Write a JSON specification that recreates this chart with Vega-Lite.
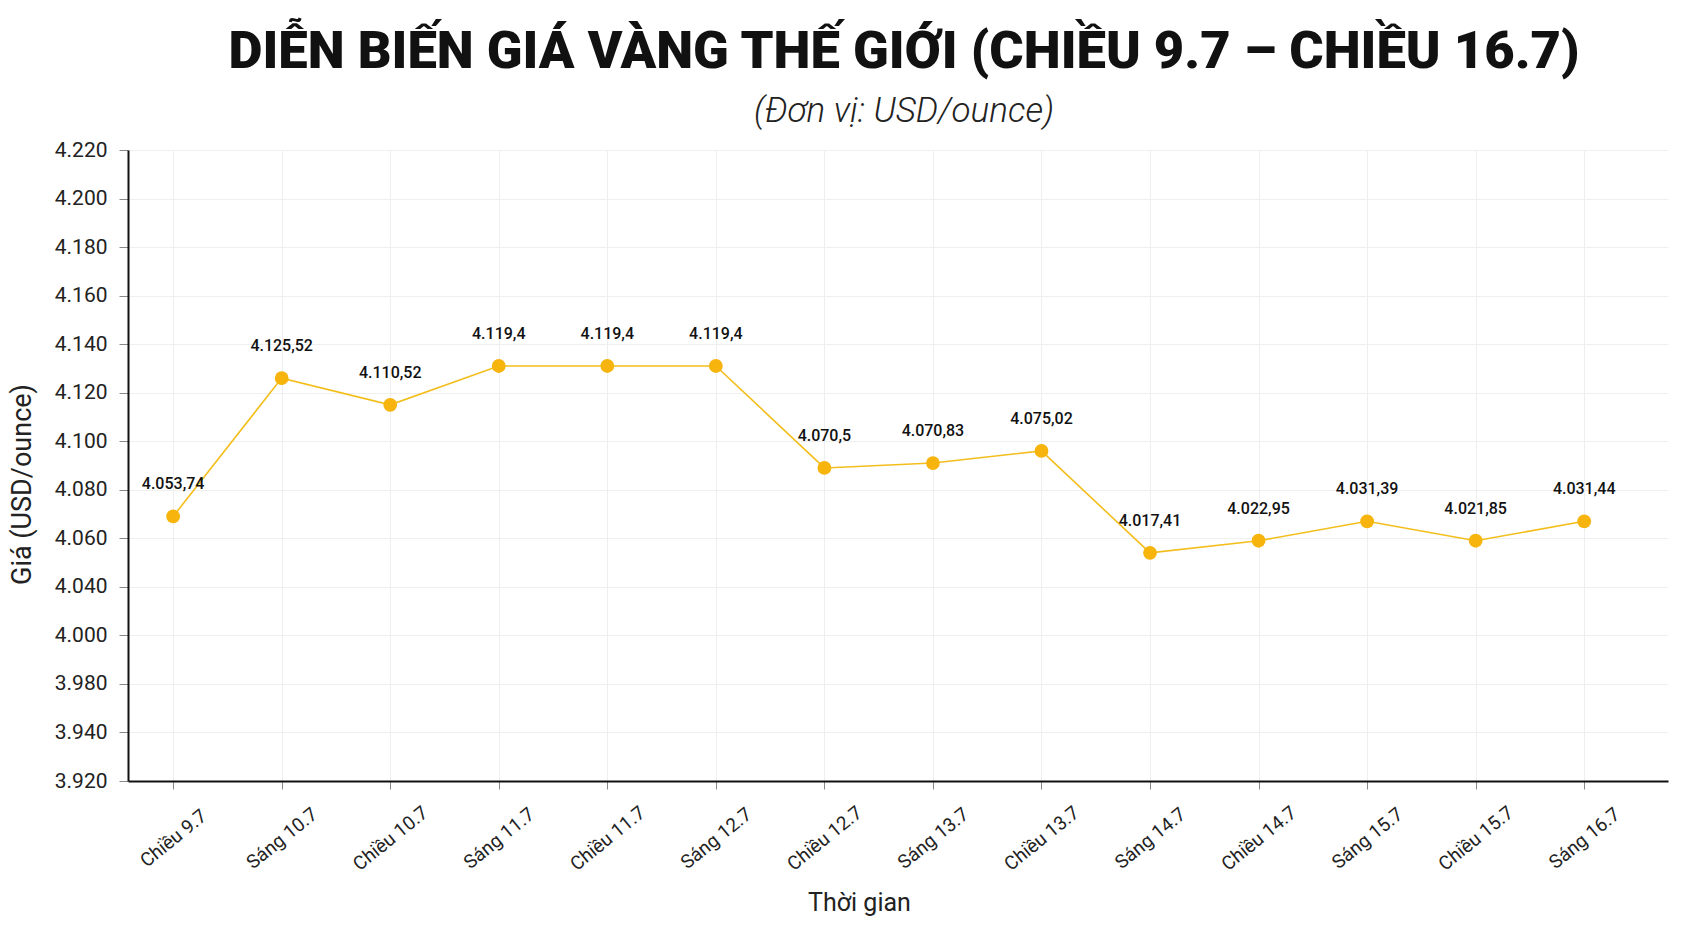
{
  "$schema": "https://vega.github.io/schema/vega-lite/v6.json",
  "width": 1540,
  "height": 631,
  "autosize": {"type": "none"},
  "padding": {"left": 128, "top": 150, "right": 27, "bottom": 147},
  "background": "white",
  "config": {
    "locale": {"number": {"decimal": ",", "thousands": ".", "grouping": [3], "currency": ["", "$"]}},
    "view": {"stroke": null}
  },
  "title": {
    "text": "DIỄN BIẾN GIÁ VÀNG THẾ GIỚI (CHIỀU 9.7 – CHIỀU 16.7)",
    "subtitle": "(Đơn vị: USD/ounce)",
    "anchor": "middle",
    "dx": 6,
    "font": "Roboto",
    "fontSize": 52.5,
    "fontWeight": 900,
    "color": "#111111",
    "subtitleFont": "Roboto",
    "subtitleFontSize": 35,
    "subtitleFontStyle": "italic",
    "subtitleFontWeight": 300,
    "subtitleColor": "#222222",
    "subtitlePadding": 15,
    "offset": 9
  },
  "data": {
    "values": [
      {"moc": "Chiều 9.7", "gia": 4053.74, "vi_tri": 4069},
      {"moc": "Sáng 10.7", "gia": 4125.52, "vi_tri": 4126},
      {"moc": "Chiều 10.7", "gia": 4110.52, "vi_tri": 4115},
      {"moc": "Sáng 11.7", "gia": 4119.4, "vi_tri": 4131},
      {"moc": "Chiều 11.7", "gia": 4119.4, "vi_tri": 4131},
      {"moc": "Sáng 12.7", "gia": 4119.4, "vi_tri": 4131},
      {"moc": "Chiều 12.7", "gia": 4070.5, "vi_tri": 4089},
      {"moc": "Sáng 13.7", "gia": 4070.83, "vi_tri": 4091},
      {"moc": "Chiều 13.7", "gia": 4075.02, "vi_tri": 4096},
      {"moc": "Sáng 14.7", "gia": 4017.41, "vi_tri": 4054},
      {"moc": "Chiều 14.7", "gia": 4022.95, "vi_tri": 4059},
      {"moc": "Sáng 15.7", "gia": 4031.39, "vi_tri": 4067},
      {"moc": "Chiều 15.7", "gia": 4021.85, "vi_tri": 4059},
      {"moc": "Sáng 16.7", "gia": 4031.44, "vi_tri": 4067}
    ]
  },
  "encoding": {
    "x": {
      "field": "moc",
      "type": "ordinal",
      "sort": null,
      "scale": {"type": "point", "padding": 0.594, "align": 0.35},
      "axis": {
        "title": "Thời gian",
        "titleFont": "Roboto",
        "titleFontSize": 25,
        "titleFontWeight": "normal",
        "titleColor": "#222222",
        "titleBaseline": "alphabetic",
        "titleX": 731,
        "titleY": 129,
        "labelFont": "Roboto",
        "labelFontSize": 19,
        "labelColor": "#222222",
        "labelAngle": -39,
        "labelAlign": "center",
        "labelBaseline": "middle",
        "labelPadding": 49,
        "tickSize": 8,
        "tickColor": "#888888",
        "domainColor": "#111111",
        "domainWidth": 2,
        "grid": true,
        "gridColor": "#efefef",
        "gridWidth": 1
      }
    },
    "y": {
      "field": "vi_tri",
      "type": "quantitative",
      "scale": {"domain": [3960, 4220], "nice": false, "zero": false},
      "axis": {
        "title": "Giá (USD/ounce)",
        "titleFont": "Roboto",
        "titleFontSize": 27,
        "titleFontWeight": "normal",
        "titleColor": "#222222",
        "titleX": -92,
        "titleY": 334,
        "values": [3960, 3980, 4000, 4020, 4040, 4060, 4080, 4100, 4120, 4140, 4160, 4180, 4200, 4220],
        "format": ",d",
        "labelExpr": "datum.value == 4020 ? '4.000' : datum.value == 4000 ? '3.980' : datum.value == 3980 ? '3.940' : datum.value == 3960 ? '3.920' : datum.label",
        "labelFont": "Roboto",
        "labelFontSize": 21,
        "labelColor": "#222222",
        "labelPadding": 12,
        "tickSize": 9,
        "tickColor": "#888888",
        "domainColor": "#111111",
        "domainWidth": 2,
        "grid": true,
        "gridColor": "#efefef",
        "gridWidth": 1
      }
    }
  },
  "layer": [
    {"mark": {"type": "line", "color": "#F3BE1C", "strokeWidth": 1.6}},
    {"mark": {"type": "point", "filled": true, "opacity": 1, "color": "#F6B40C", "size": 190}},
    {
      "mark": {"type": "text", "dy": -32, "fontSize": 16, "fontWeight": 500, "font": "Roboto", "color": "#111111"},
      "encoding": {"text": {"field": "gia", "type": "quantitative", "format": ","}}
    }
  ]
}
